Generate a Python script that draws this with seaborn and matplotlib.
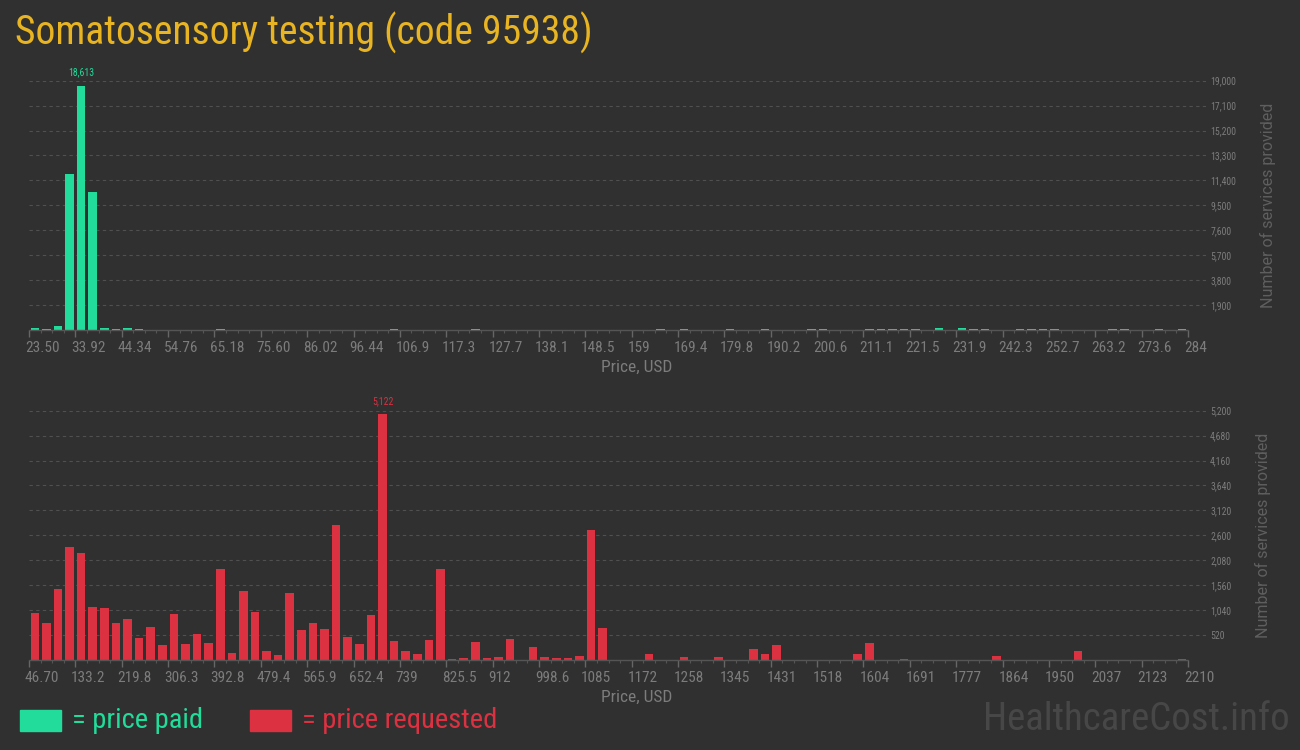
import numpy as np
import pandas as pd
import matplotlib.pyplot as plt
import matplotlib.transforms as mtransforms
from matplotlib.patches import Rectangle
from matplotlib.ticker import FixedLocator, FuncFormatter
import seaborn as sns

# bin range and counts of the "price paid" histogram (100 bins)
paid_lo, paid_hi = 23.50, 284.0
paid_counts = [
    150, 50, 300, 11890, 18613, 10517, 150, 80, 150, 40,
    0, 0, 0, 0, 30, 0, 40, 0, 0, 0,
    0, 0, 0, 0, 0, 0, 0, 0, 0, 0,
    0, 40, 0, 0, 0, 0, 0, 0, 40, 0,
    0, 0, 0, 0, 0, 0, 0, 0, 0, 0,
    0, 0, 0, 0, 40, 0, 40, 0, 0, 0,
    40, 0, 0, 40, 0, 0, 0, 40, 40, 0,
    0, 0, 40, 40, 40, 40, 40, 0, 120, 0,
    120, 40, 40, 0, 0, 40, 40, 40, 40, 0,
    0, 0, 0, 40, 40, 0, 0, 40, 0, 40,
]
paid_xlabels = [
    "23.50", "33.92", "44.34", "54.76", "65.18", "75.60", "86.02", "96.44",
    "106.9", "117.3", "127.7", "138.1", "148.5", "159", "169.4", "179.8",
    "190.2", "200.6", "211.1", "221.5", "231.9", "242.3", "252.7", "263.2",
    "273.6", "284",
]
paid_yticks = [1900, 3800, 5700, 7600, 9500, 11400, 13300, 15200, 17100, 19000]

# bin range and counts of the "price requested" histogram (100 bins)
req_lo, req_hi = 46.70, 2210.0
req_counts = [
    980, 772, 1481, 2357, 2232, 1105, 1085, 772, 855, 459,
    688, 313, 959, 334, 542, 355, 1898, 146, 1439, 1001,
    188, 104, 1397, 626, 772, 647, 2816, 480, 334, 939,
    5122, 396, 188, 125, 417, 1898, 25, 42, 375, 42,
    63, 438, 0, 271, 63, 42, 42, 83, 2711, 667,
    0, 0, 0, 125, 0, 0, 63, 0, 0, 63,
    0, 0, 229, 125, 313, 0, 0, 0, 0, 0,
    0, 125, 355, 0, 0, 25, 0, 0, 0, 0,
    0, 0, 0, 83, 0, 0, 0, 0, 0, 0,
    188, 0, 0, 0, 0, 0, 0, 0, 0, 21,
]
req_xlabels = [
    "46.70", "133.2", "219.8", "306.3", "392.8", "479.4", "565.9", "652.4",
    "739", "825.5", "912", "998.6", "1085", "1172", "1258", "1345", "1431",
    "1518", "1604", "1691", "1777", "1864", "1950", "2037", "2123", "2210",
]
req_yticks = [520, 1040, 1560, 2080, 2600, 3120, 3640, 4160, 4680, 5200]

BG = "#303030"
GREEN = "#21dc9b"
RED = "#dc3141"
GOLD = "#e8b422"
GRAY = "#7c7c7c"
GRID = "#505050"
NARROW = ["Roboto Condensed", "Liberation Sans Narrow", "Roboto", "DejaVu Sans"]

sns.set_theme(style="dark", rc={
    "figure.facecolor": BG,
    "axes.facecolor": BG,
    "savefig.facecolor": BG,
})
plt.rcParams["font.family"] = NARROW
plt.rcParams["font.stretch"] = "condensed"

W, H = 1300, 750
fig = plt.figure(figsize=(W / 100, H / 100), dpi=100)

# pixel geometry: data range spans px 29..1188, gridlines run to px 1206
X0, X1, XG = 29, 1188, 1206


def draw_panel(top_px, base_px, counts, lo, hi, xlabels, yticks, color):
    ax = fig.add_axes([X0 / W, 1 - base_px / H, (XG - X0) / W, (base_px - top_px) / H])
    ax.set_facecolor(BG)
    edges = np.linspace(lo, hi, len(counts) + 1)
    df = pd.DataFrame({"price": (edges[:-1] + edges[1:]) / 2, "count": counts})
    sns.histplot(data=df, x="price", weights="count", bins=edges.tolist(),
                 shrink=0.74, color=color, alpha=1, edgecolor="none",
                 linewidth=0, ax=ax)

    ax.set_xlim(lo, lo + (hi - lo) * (XG - X0) / (X1 - X0))
    ax.set_ylim(0, yticks[-1])
    for s in ax.spines.values():
        s.set_visible(False)
    ax.plot([lo, hi], [0, 0], color="#555555", lw=1, clip_on=False, zorder=3)

    # y axis on the right
    ax.yaxis.tick_right()
    ax.set_yticks(yticks)
    ax.yaxis.set_major_formatter(FuncFormatter(lambda v, p: f"{int(v):,}"))
    ax.tick_params(axis="y", length=0, pad=3, labelsize=7, labelcolor=GRAY)
    ax.grid(axis="y", linestyle=(0, (3, 3)), color=GRID, linewidth=0.8)
    ax.grid(axis="x", visible=False)
    ax.yaxis.set_label_position("right")
    ax.set_ylabel("Number of services provided",
                  family=["Roboto", "DejaVu Sans"], stretch="normal",
                  fontsize=11.5, color="#5f5f5f", labelpad=17)

    # x axis: major tick every 4 bins, minor tick per bin
    ax.xaxis.set_major_locator(FixedLocator(edges[::4]))
    ax.xaxis.set_minor_locator(FixedLocator(edges))
    ax.set_xticklabels(xlabels)
    ax.tick_params(axis="x", which="major", length=5, width=1, color="#666666",
                   bottom=True, labelsize=11, labelcolor=GRAY, pad=3)
    ax.tick_params(axis="x", which="minor", length=2.5, width=0.8,
                   color="#555555", bottom=True)
    shift = mtransforms.ScaledTranslation(-3 / 72, 0, fig.dpi_scale_trans)
    for lab in ax.get_xticklabels():
        lab.set_ha("left")
        lab.set_transform(lab.get_transform() + shift)
    ax.set_xlabel("Price, USD", fontsize=12.5, color=GRAY)
    ax.xaxis.set_label_coords((637 - X0) / (XG - X0), -30 / (base_px - top_px))

    # peak value label
    i = int(np.argmax(counts))
    ax.annotate(f"{counts[i]:,}", (df["price"][i], counts[i]), xytext=(0, 6),
                textcoords="offset points", ha="center", va="bottom",
                fontsize=7, color=color)
    return ax


draw_panel(80.7, 330, paid_counts, paid_lo, paid_hi, paid_xlabels, paid_yticks, GREEN)
draw_panel(410.7, 660, req_counts, req_lo, req_hi, req_xlabels, req_yticks, RED)

fig.text(15 / W, 1 - 33 / H, "Somatosensory testing (code 95938)",
         fontsize=28.5, color=GOLD, va="center", ha="left")

# legend
fig.add_artist(Rectangle((20 / W, 1 - 731 / H), 41 / W, 21 / H,
                         transform=fig.transFigure, color=GREEN))
fig.text(72 / W, 1 - 720 / H, "= price paid", fontsize=20.5, color=GREEN,
         va="center", ha="left")
fig.add_artist(Rectangle((250 / W, 1 - 731 / H), 41 / W, 21 / H,
                         transform=fig.transFigure, color=RED))
fig.text(302 / W, 1 - 720 / H, "= price requested", fontsize=20.5, color=RED,
         va="center", ha="left")

fig.text(1290 / W, 1 - 720 / H, "HealthcareCost.info", fontsize=28,
         color="#474747", va="center", ha="right")

fig.savefig("out.png", dpi=100, facecolor=BG)
